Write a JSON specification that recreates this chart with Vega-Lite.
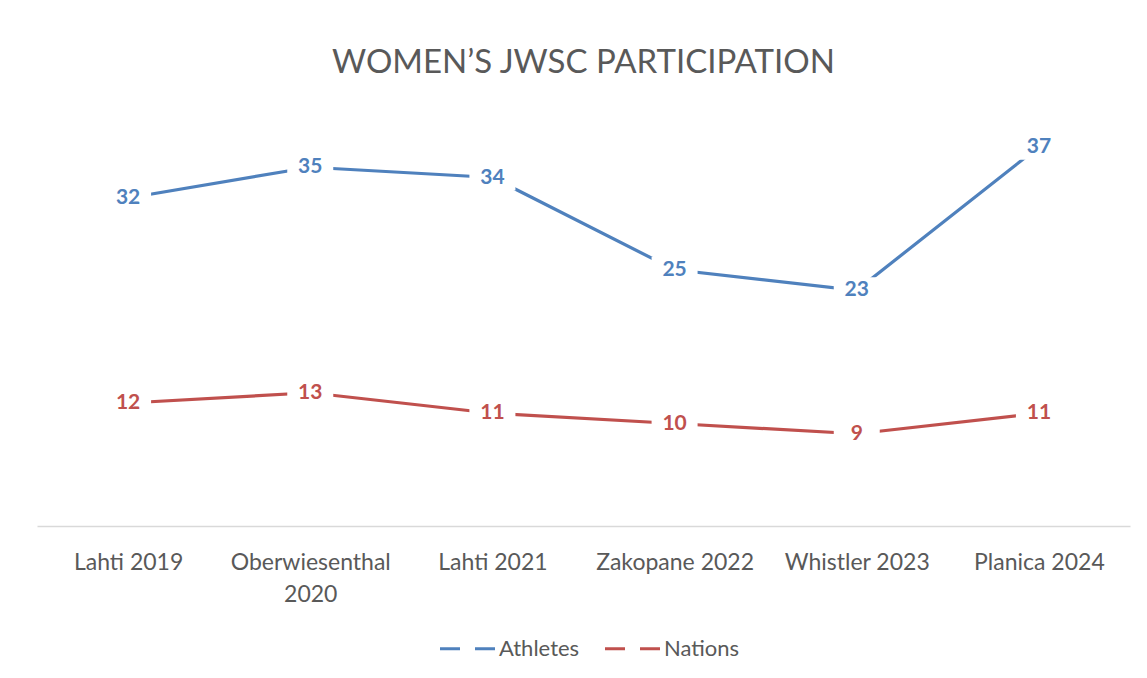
{
  "$schema": "https://vega.github.io/schema/vega-lite/v6.json",
  "width": 1093,
  "height": 410,
  "autosize": {"type": "none"},
  "padding": {"left": 37, "top": 116, "right": 17, "bottom": 152},
  "background": "white",
  "title": {
    "text": "WOMEN’S JWSC PARTICIPATION",
    "anchor": "middle",
    "font": "Lato",
    "fontSize": 33,
    "fontWeight": 400,
    "color": "#595959",
    "baseline": "alphabetic",
    "offset": 10
  },
  "data": {
    "values": [
      {"venue": "Lahti 2019", "series": "Athletes", "value": 32},
      {"venue": "Oberwiesenthal 2020", "series": "Athletes", "value": 35},
      {"venue": "Lahti 2021", "series": "Athletes", "value": 34},
      {"venue": "Zakopane 2022", "series": "Athletes", "value": 25},
      {"venue": "Whistler 2023", "series": "Athletes", "value": 23},
      {"venue": "Planica 2024", "series": "Athletes", "value": 37},
      {"venue": "Lahti 2019", "series": "Nations", "value": 12},
      {"venue": "Oberwiesenthal 2020", "series": "Nations", "value": 13},
      {"venue": "Lahti 2021", "series": "Nations", "value": 11},
      {"venue": "Zakopane 2022", "series": "Nations", "value": 10},
      {"venue": "Whistler 2023", "series": "Nations", "value": 9},
      {"venue": "Planica 2024", "series": "Nations", "value": 11}
    ]
  },
  "encoding": {
    "x": {
      "field": "venue",
      "type": "nominal",
      "sort": null,
      "scale": {"type": "point", "padding": 0.5},
      "axis": {
        "title": null,
        "labelAngle": 0,
        "ticks": false,
        "grid": false,
        "domainColor": "#d9d9d9",
        "domainWidth": 1.5,
        "labelFont": "Lato",
        "labelFontSize": 23,
        "labelColor": "#595959",
        "labelPadding": 43,
        "labelBaseline": "alphabetic",
        "labelLineHeight": 32,
        "labelLimit": 0,
        "labelExpr": "length(datum.value) > 15 ? split(datum.value, ' ') : datum.value"
      }
    },
    "y": {
      "field": "value",
      "type": "quantitative",
      "scale": {"domain": [0, 40], "nice": false, "zero": true},
      "axis": null
    }
  },
  "layer": [
    {
      "mark": {"type": "line", "strokeWidth": 3.2, "strokeCap": "butt"},
      "encoding": {
        "color": {
          "field": "series",
          "type": "nominal",
          "scale": {"domain": ["Athletes", "Nations"], "range": ["#4F81BD", "#C0504D"]},
          "legend": {
            "title": null,
            "orient": "none",
            "legendX": 401,
            "legendY": 503,
            "direction": "horizontal",
            "symbolType": "stroke",
            "symbolSize": 3025,
            "symbolStrokeWidth": 3.2,
            "symbolDash": [20, 15],
            "labelFont": "Lato",
            "labelFontSize": 22,
            "labelColor": "#595959",
            "labelOffset": 2,
            "columnPadding": 18
          }
        }
      }
    },
    {
      "mark": {
        "type": "point",
        "shape": "M-1,-0.56H1V0.56H-1Z",
        "filled": true,
        "fill": "white",
        "opacity": 1,
        "strokeWidth": 0,
        "size": 2116
      }
    },
    {
      "mark": {
        "type": "text",
        "font": "Lato",
        "fontSize": 21,
        "fontWeight": "bold",
        "baseline": "middle",
        "align": "center"
      },
      "encoding": {
        "text": {"field": "value", "type": "quantitative"},
        "color": {"field": "series", "type": "nominal", "legend": null}
      }
    }
  ],
  "config": {"view": {"stroke": null}}
}
